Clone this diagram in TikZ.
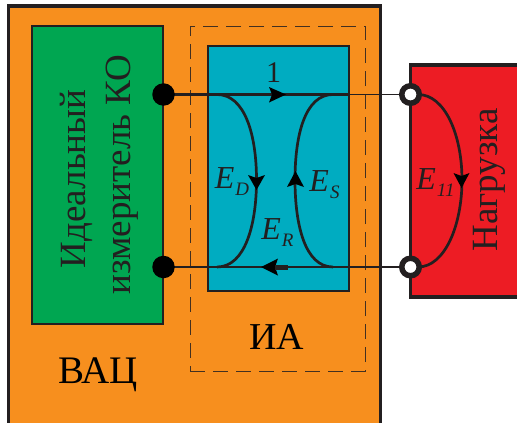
\documentclass[tikz,border=0pt]{standalone}
\usepackage{fontspec}
\setmainfont{Liberation Serif}
\definecolor{ora}{RGB}{247,143,30}
\definecolor{grn}{RGB}{0,166,81}
\definecolor{teal2}{RGB}{0,172,193}
\definecolor{rd}{RGB}{237,28,36}
\definecolor{ink}{RGB}{35,31,32}
\newcommand{\fs}[1]{\fontsize{#1}{#1}\selectfont}
\newcommand{\symb}[1]{E\kern1pt\raisebox{-7pt}{\fs{19}#1}}
\tikzset{
 x=1pt,y=-1pt,
 panel/.style={draw=ink,line width=1.1pt,inner sep=0pt},
 wire/.style={draw=ink,line width=2.7pt},
 thinwire/.style={draw=ink,line width=1.5pt},
 soliddot/.style={circle,fill=black,minimum size=22.5pt,inner sep=0pt},
 port/.style={circle,draw=ink,fill=white,line width=5.5pt,minimum size=17.5pt,inner sep=0pt},
 lab/.style={text=ink,inner sep=0pt},
 sym/.style={text=ink,inner sep=0pt,font=\fs{32}\itshape},
}
\begin{document}
\begin{tikzpicture}
\useasboundingbox (0,0) rectangle (517,423);
\fill[white] (0,0) rectangle (517,423);
% outer
\fill[ora] (8.5,6) rectangle (380.5,423);
\draw[ink,line width=3.5pt] (8.5,424.4) -- (8.5,6) -- (380.5,6) -- (380.5,424.4) -- cycle;
\node[panel,fill=grn,minimum width=131pt,minimum height=298pt] (meter) at (97.5,175) {};
\node[panel,draw=ink!85!ora,line width=0.9pt,dash pattern=on 15pt off 8pt,minimum width=175pt,minimum height=345pt] (ia) at (277.5,198.5) {};
\node[panel,fill=teal2,minimum width=141pt,minimum height=245pt] (core) at (278.5,168.5) {};
\fill[rd] (410.5,65) rectangle (517,297);
\draw[ink,line width=3.8pt] (518,65) -- (410.5,65) -- (410.5,297) -- (518,297);
% terminals
\coordinate (a1) at (163.5,94.5);
\coordinate (a2) at (163.5,267);
\coordinate (b1) at (410.5,94.5);
\coordinate (b2) at (410.5,267);
% wires
\draw[thinwire] (a1) -- (b1);
\draw[thinwire] (a2) -- (b2);
\draw[wire] (a1) -- (349,94.5);
\draw[wire] (a2) -- (349,267);
\path[fill=black] (286,94.5) -- (269,87) -- (272,94.5) -- (269,102.5) -- cycle;
\path[fill=black] (261,267) -- (278,258.5) -- (275,267) -- (278,275.5) -- cycle;
\draw[ink,line width=5pt] (275,267) -- (288,267);
% curves
\draw[wire] (217,94.5) .. controls (245,94.5) and (256.5,135) .. (256.5,180) .. controls (256.5,225) and (245,267) .. (217,267);
\draw[wire] (333,267) .. controls (305,267) and (295,225) .. (295,180) .. controls (295,135) and (305,94.5) .. (333,94.5);
\draw[wire] (418,94.5) .. controls (445,94.5) and (462,135) .. (462,180) .. controls (462,225) and (445,267) .. (418,267);
\path[fill=black] (256.5,190) -- (248,175) -- (256.5,178) -- (265,175) -- cycle;
\path[fill=black] (295.5,171) -- (287,187) -- (295.5,184) -- (304,187) -- cycle;
\path[fill=black] (461.5,188) -- (453.5,173) -- (461.5,176) -- (469.5,173) -- cycle;
\node[soliddot] (d1) at (a1) {};
\node[soliddot] (d2) at (a2) {};
\node[port] (p1) at (b1) {};
\node[port] (p2) at (b2) {};
% labels
\node[lab,font=\fs{30}] (n1) at (273.5,73) {1};
\node[sym] (ed) at (232,181.5) {\symb{D}};
\node[sym] (es) at (324.5,185) {\symb{S}};
\node[sym] (er) at (277.5,232.5) {\symb{R}};
\node[sym] (e11) at (435.5,182.5) {\symb{11}};
\node[lab,font=\fs{37},rotate=90] (load) at (489,180) {Нагрузка};
\node[lab,font=\fs{37},rotate=90] (m1) at (76,179) {Идеальный};
\node[lab,font=\fs{37},rotate=90] (m2) at (122,174.5) {измеритель КО};
\node[lab,font=\fs{38},text=black] (ia-t) at (277,337) {ИА};
\node[lab,font=\fs{39},text=black] (vac) at (98,375) {ВАЦ};
\end{tikzpicture}
\end{document}
